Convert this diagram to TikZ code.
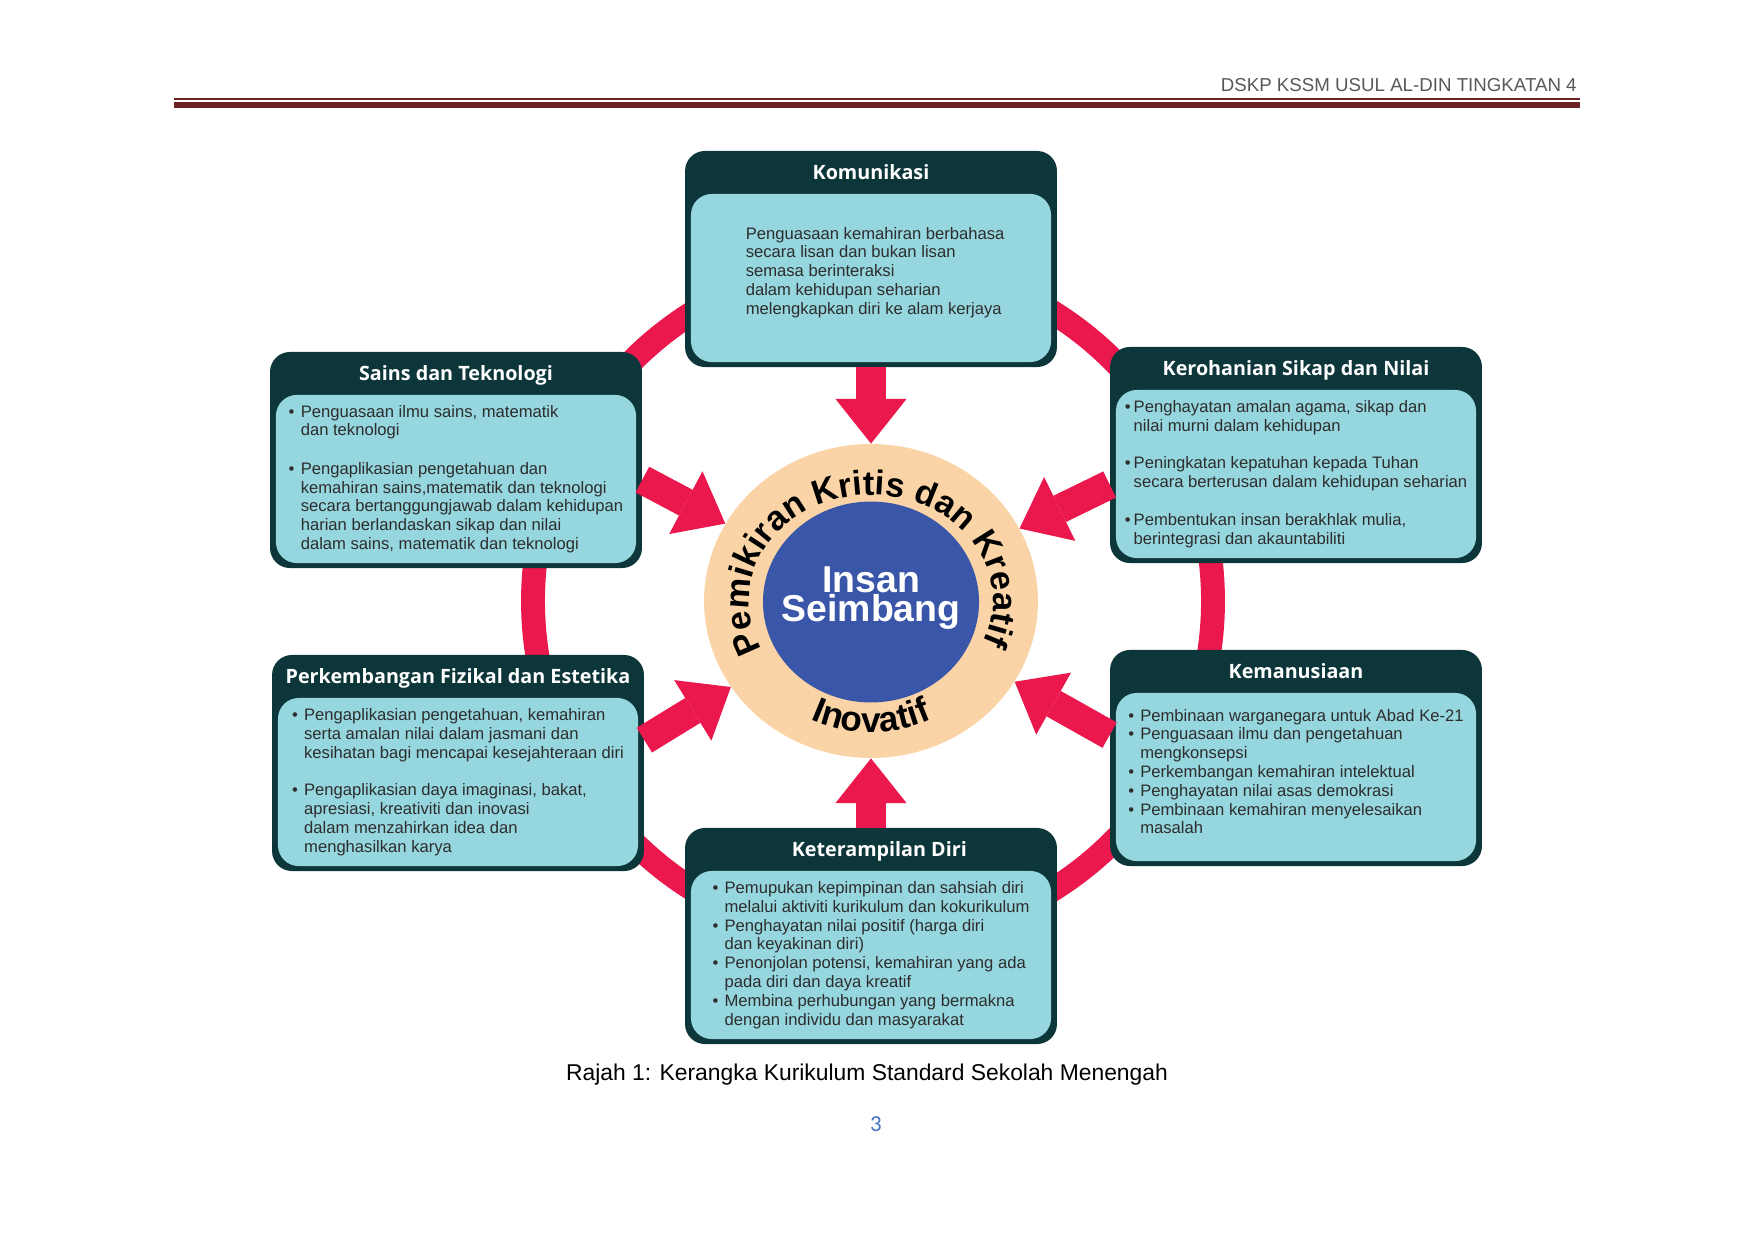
\documentclass[tikz,border=0pt]{standalone}
\usepackage{fontspec}
\setmainfont{Liberation Sans}
\newfontfamily\titlefont{Open Sans}
\newfontfamily\pagefont{Carlito}
\usetikzlibrary{positioning,shapes.geometric,arrows.meta,decorations.text}

\definecolor{boxdark}{RGB}{13,54,58}
\definecolor{boxlight}{RGB}{150,214,222}
\definecolor{ringred}{RGB}{234,24,76}
\definecolor{peach}{RGB}{250,212,166}
\definecolor{insanblue}{RGB}{58,86,168}
\definecolor{rulered}{RGB}{108,35,33}
\definecolor{bodygray}{RGB}{45,45,45}
\definecolor{pageblue}{RGB}{68,114,196}

\tikzstyle{outerbox} = [rectangle, rounded corners=9.6pt, minimum width=179pt, minimum height=104pt, fill=boxdark, inner sep=0pt]
\tikzstyle{bodybox} = [rectangle, rounded corners=10pt, minimum width=173.3pt, minimum height=80.9pt, fill=boxlight, align=left, text=bodygray, font={\fontsize{8}{9.05}\selectfont}, inner sep=0pt]
\tikzstyle{titletext} = [text=white, font={\titlefont\bfseries\fontsize{9.5}{10}\selectfont}, inner sep=0pt, text height=6.8pt, text depth=0pt]
\tikzstyle{blockarrow} = [draw=ringred, line width=14pt, -{Triangle[length=21.5pt, width=34.2pt, line width=0pt]}]
\tikzstyle{ringline} = [draw=ringred, line width=11.5pt]

\newcommand{\bul}{\makebox[5.8pt][l]{\textbullet}}
\newcommand{\ind}{\hspace*{5.8pt}}
\newcommand{\bulk}{\makebox[4.3pt][l]{\textbullet}}
\newcommand{\indk}{\hspace*{4.3pt}}
\newcommand{\arcfont}{\bfseries\fontsize{16.5}{16.5}\selectfont}
\newcommand{\inofont}{\bfseries\fontsize{17}{17}\selectfont}

\begin{document}
\begin{tikzpicture}[x=0.4813pt, y=-0.4813pt]
    \fill[white] (0,0) rectangle (1755,1241);
    \useasboundingbox (0,0) rectangle (1755,1241);

    % page header
    \node (header) [anchor=east, inner sep=0pt, text=black!65, font={\fontsize{9}{11}\selectfont}] at (1577,85) {DSKP KSSM USUL AL-DIN TINGKATAN 4};
    \draw[draw=rulered, line width=0.5pt] (174,99) -- (1580,99);
    \fill[fill=rulered] (174,101.7) rectangle (1580,107.7);

    % red ring behind the boxes
    \draw[ringline] (873,601) circle[radius=340];

    \node (komu) [outerbox] at (871,259) {};
    \node (sains) [outerbox] at (456,460) {};
    \node (kero) [outerbox] at (1296,455) {};
    \node (perk) [outerbox] at (458,763) {};
    \node (kema) [outerbox] at (1296,758) {};
    \node (kete) [outerbox] at (871,936) {};

    \node (komutitle) [titletext] at ([yshift=-10.6pt]komu.north) {Komunikasi};
    \node (sainstitle) [titletext] at ([yshift=-10.6pt]sains.north) {Sains dan Teknologi};
    \node (kerotitle) [titletext] at ([yshift=-10.6pt]kero.north) {Kerohanian Sikap dan Nilai};
    \node (perktitle) [titletext] at ([yshift=-10.6pt]perk.north) {Perkembangan Fizikal dan Estetika};
    \node (kematitle) [titletext] at ([yshift=-10.6pt]kema.north) {Kemanusiaan};
    \node (ketetitle) [titletext] at ([xshift=4pt, yshift=-10.6pt]kete.north) {Keterampilan Diri};

    \node (komubody) [bodybox, text depth=7pt, above=2.4pt of komu.south] {\hspace*{4pt}Penguasaan kemahiran berbahasa\\
        \hspace*{4pt}secara lisan dan bukan lisan\\
        \hspace*{4pt}semasa berinteraksi\\
        \hspace*{4pt}dalam kehidupan seharian\\
        \hspace*{4pt}melengkapkan diri ke alam kerjaya};
    \node (sainsbody) [bodybox, above=2.4pt of sains.south] {\bul Penguasaan ilmu sains, matematik\\
        \ind dan teknologi\\[9.5pt]
        \bul Pengaplikasian pengetahuan dan\\
        \ind kemahiran sains,matematik dan teknologi\\
        \ind secara bertanggungjawab dalam kehidupan\\
        \ind harian berlandaskan sikap dan nilai\\
        \ind dalam sains, matematik dan teknologi};
    \node (kerobody) [bodybox, above=2.4pt of kero.south] {\bulk Penghayatan amalan agama, sikap dan\\
        \indk nilai murni dalam kehidupan\\[9pt]
        \bulk Peningkatan kepatuhan kepada Tuhan\\
        \indk secara berterusan dalam kehidupan seharian\\[9pt]
        \bulk Pembentukan insan berakhlak mulia,\\
        \indk berintegrasi dan akauntabiliti};
    \node (perkbody) [bodybox, above=2.4pt of perk.south] {\bul Pengaplikasian pengetahuan, kemahiran\\
        \ind serta amalan nilai dalam jasmani dan\\
        \ind kesihatan bagi mencapai kesejahteraan diri\\[9pt]
        \bul Pengaplikasian daya imaginasi, bakat,\\
        \ind apresiasi, kreativiti dan inovasi\\
        \ind dalam menzahirkan idea dan\\
        \ind menghasilkan karya};
    \node (kemabody) [bodybox, text depth=5.4pt, above=2.4pt of kema.south] {\bul Pembinaan warganegara untuk Abad Ke-21\\
        \bul Penguasaan ilmu dan pengetahuan\\
        \ind mengkonsepsi\\
        \bul Perkembangan kemahiran intelektual\\
        \bul Penghayatan nilai asas demokrasi\\
        \bul Pembinaan kemahiran menyelesaikan\\
        \ind masalah};
    \node (ketebody) [bodybox, above=2.4pt of kete.south] {\bul Pemupukan kepimpinan dan sahsiah diri\\
        \ind melalui aktiviti kurikulum dan kokurikulum\\
        \bul Penghayatan nilai positif (harga diri\\
        \ind dan keyakinan diri)\\
        \bul Penonjolan potensi, kemahiran yang ada\\
        \ind pada diri dan daya kreatif\\
        \bul Membina perhubungan yang bermakna\\
        \ind dengan individu dan masyarakat};

    % centre
    \node (ring) [ellipse, fill=peach, minimum width=160.7pt, minimum height=151.1pt, inner sep=0pt] at (871,601) {};
    \node (core) [ellipse, fill=insanblue, minimum width=104pt, minimum height=96.7pt, inner sep=0pt] at (871,602) {};
    \node (insan) [text=white, align=center, inner sep=0pt, font={\bfseries\fontsize{18}{14}\selectfont\lineskiplimit=-20pt}] at (871,598) {Insan\\Seimbang};

    \path[decorate, decoration={text along path, text={|\arcfont|Pemikiran Kritis dan Kreatif}, text align={fit to path}}]
        (ring.center) ++(153:122 and 106) arc[start angle=153, end angle=383, x radius=122, y radius=106];
    \path[decorate, decoration={text along path, text={|\inofont|Inovatif}, text align=center}]
        (ring.center) ++(125:140 and 131) arc[start angle=125, end angle=55, x radius=140, y radius=131];

    \draw [blockarrow] (komu.south) -- (ring);
    \draw [blockarrow] (kete.north) -- (ring);
    \draw [blockarrow] (sains.-6) -- (ring);
    \draw [blockarrow] (kero.189) -- (ring);
    \draw [blockarrow] (perk.7) -- (ring);
    \draw [blockarrow] (kema.173) -- (ring);

    \node (caption) [inner sep=0pt, font={\fontsize{11}{13}\selectfont}] at (867,1075) {Rajah 1: Kerangka Kurikulum Standard Sekolah Menengah};
    \node (pagenum) [inner sep=0pt, text=pageblue, font={\pagefont\fontsize{11}{13}\selectfont}] at (876,1124) {3};
\end{tikzpicture}
\end{document}
